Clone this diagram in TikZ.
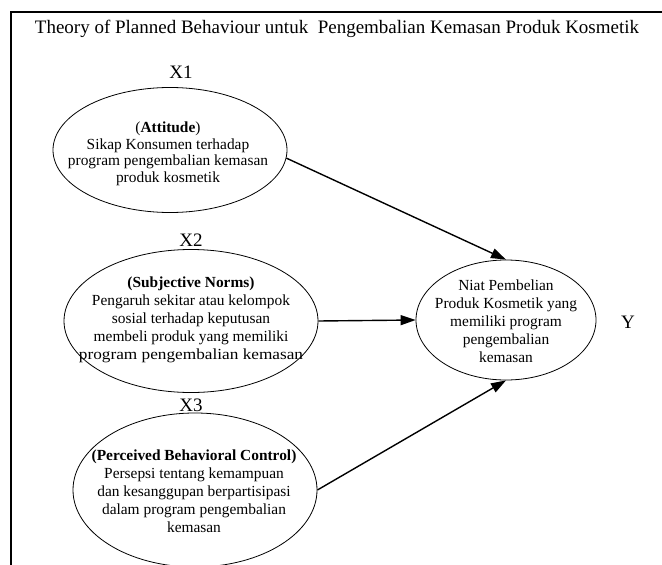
\documentclass[tikz,border=0pt]{standalone}
\usepackage{fontspec}
\setmainfont{Liberation Serif}
\usetikzlibrary{shapes.geometric,arrows.meta}
\begin{document}
\begin{tikzpicture}[x=1pt,y=-1pt,
  ell/.style={draw,ellipse,line width=0.8pt,inner sep=0pt},
  txt/.style={align=center,font=\fontsize{15.4}{18}\selectfont,inner sep=0pt},
  big/.style={font=\fontsize{19}{22}\selectfont,inner sep=0pt},
  arr/.style={line width=1.4pt,-{Triangle[length=15pt,width=10pt]}}]
\useasboundingbox (0,0) rectangle (662,565);
\draw[line width=1.3pt] (11,566) -- (11,12) -- (663,12);
\node[big] (title) at (337,29) {Theory of Planned Behaviour untuk\ \ Pengembalian Kemasan Produk Kosmetik};
\node[big] (x1) at (181,72) {X1};
\node[big] (x2) at (191,240) {X2};
\node[big] (x3) at (191,405) {X3};
\node[big] (ylab) at (628,322) {Y};
\node[ell,minimum width=234pt,minimum height=125pt] (e1) at (170,150) {};
\node[txt,font=\fontsize{15.4}{16.5}\selectfont] (t1) at (168,154) {({\bfseries Attitude})\\Sikap Konsumen terhadap\\program pengembalian kemasan\\produk kosmetik};
\node[ell,minimum width=254pt,minimum height=143pt] (e2) at (191,321) {};
\node[txt] (t2) at (191,320) {\bfseries (Subjective Norms)\\Pengaruh sekitar atau kelompok\\sosial terhadap keputusan\\membeli produk yang memiliki\\\scalebox{1.12}[1]{program pengembalian kemasan}};
\node[ell,minimum width=244pt,minimum height=154pt] (e3) at (195,490) {};
\node[txt] (t3) at (194,491) {\bfseries (Perceived Behavioral Control)\\Persepsi tentang kemampuan\\dan kesanggupan berpartisipasi\\dalam program pengembalian\\kemasan};
\node[ell,minimum width=180pt,minimum height=120pt] (yy) at (506,320) {};
\node[txt] (ty) at (506,321) {Niat Pembelian\\Produk Kosmetik yang\\memiliki program\\pengembalian\\kemasan};
\draw[arr] (e1.-4) -- (yy.north);
\draw[arr] (e2.east) -- (yy.west);
\draw[arr] (e3.east) -- (yy.south);
\end{tikzpicture}
\end{document}
